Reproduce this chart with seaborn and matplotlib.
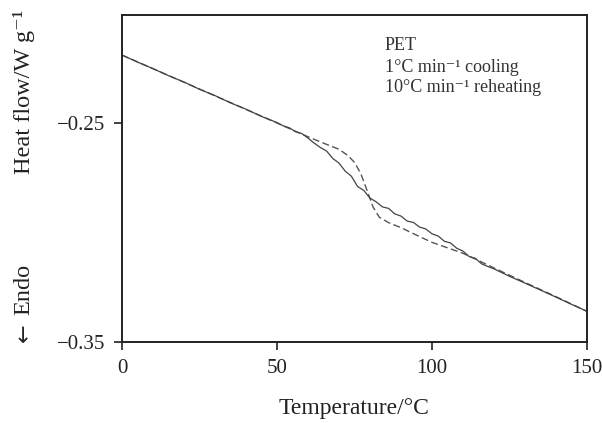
import matplotlib
matplotlib.use("Agg")
import matplotlib.pyplot as plt
import seaborn as sns
import pandas as pd

# Dashed curve (cooling 1°C/min, reheated)
temp_dashed = [0, 10, 20, 30, 40, 50, 55, 60, 65, 70, 73, 75, 77, 79, 81, 83,
               86, 90, 95, 100, 105, 110, 115, 120, 130, 140, 150]
flow_dashed = [-0.2190, -0.2252, -0.2314, -0.2376, -0.2438, -0.2500, -0.2532,
               -0.2563, -0.2592, -0.2620, -0.2650, -0.2680, -0.2730, -0.2806,
               -0.2884, -0.2930, -0.2955, -0.2978, -0.3012, -0.3045, -0.3070,
               -0.3095, -0.3128, -0.3162, -0.3228, -0.3293, -0.3360]

# Solid (noisy) curve
temp_solid = [0, 5, 10, 15, 20, 25, 30, 35, 40, 45, 50, 52, 54, 56, 58, 60, 62,
              64, 66, 68, 70, 72, 74, 76, 78, 80, 82, 84, 86, 88, 90, 92, 94, 96,
              98, 100, 102, 104, 106, 108, 110, 112, 114, 116, 118, 120, 125,
              130, 135, 140, 145, 150]
flow_solid = [-0.2190, -0.2222, -0.2252, -0.2284, -0.2313, -0.2346, -0.2375,
              -0.2408, -0.2437, -0.2470, -0.2498, -0.2513, -0.2522, -0.2540,
              -0.2548, -0.2569, -0.2592, -0.2612, -0.2628, -0.2662, -0.2683,
              -0.2720, -0.2743, -0.2790, -0.2808, -0.2843, -0.2860, -0.2883,
              -0.2890, -0.2915, -0.2925, -0.2948, -0.2954, -0.2975, -0.2984,
              -0.3006, -0.3016, -0.3040, -0.3048, -0.3072, -0.3085, -0.3110,
              -0.3118, -0.3143, -0.3155, -0.3166, -0.3200, -0.3231, -0.3263,
              -0.3295, -0.3328, -0.3360]

x_ticks = [0, 50, 100, 150]
y_ticks = [-0.35, -0.25]
annot_lines = ["PET", "1°C min\u207b\u00b9 cooling", "10°C min\u207b\u00b9 reheating"]

sns.set_theme(style="ticks")
plt.rcParams["font.family"] = ["Liberation Serif", "DejaVu Serif"]
plt.rcParams["axes.unicode_minus"] = True

fig = plt.figure(figsize=(6.02, 4.23), dpi=100)
ax = fig.add_axes([0.2027, 0.1915, 0.7723, 0.773])

df_d = pd.DataFrame({"T": temp_dashed, "H": flow_dashed})
df_s = pd.DataFrame({"T": temp_solid, "H": flow_solid})
sns.lineplot(data=df_d, x="T", y="H", ax=ax, color="#555555", lw=1.0,
             linestyle=(0, (5, 2.5)))
sns.lineplot(data=df_s, x="T", y="H", ax=ax, color="#444444", lw=0.9)

ax.set_xlim(0, 150)
ax.set_ylim(-0.35, -0.2007)
ax.set_xticks(x_ticks)
ax.set_yticks(y_ticks)
ax.set_xticklabels([str(t) for t in x_ticks])
ax.set_yticklabels(["\u22120.35", "\u22120.25"])
ax.tick_params(axis="both", direction="out", length=6, width=1.2,
               labelsize=15, colors="#222222", pad=6)
for s in ax.spines.values():
    s.set_linewidth(1.4)
    s.set_color("#222222")
    s.set_visible(True)

ax.set_xlabel("Temperature/°C", fontsize=17, color="#222222", labelpad=15)
ax.set_ylabel("")
fig.text(0.040, 1 - 92 / 423, "Heat flow/W g\u207b\u00b9", rotation=90,
         ha="center", va="center", fontsize=17.5, color="#222222")
fig.text(0.040, 1 - 289 / 423, "Endo", rotation=90,
         ha="center", va="center", fontsize=17.5, color="#222222")
fig.text(0.040, 1 - 333 / 423, "\u2190", rotation=90, family="DejaVu Sans",
         ha="center", va="center", fontsize=16, color="#222222")

ys = [45, 67, 88]
for t, y in zip(annot_lines, ys):
    fig.text(385 / 602, 1 - y / 423, t, ha="left", va="center",
             fontsize=13, color="#333333")

fig.savefig("out.png", dpi=100)
